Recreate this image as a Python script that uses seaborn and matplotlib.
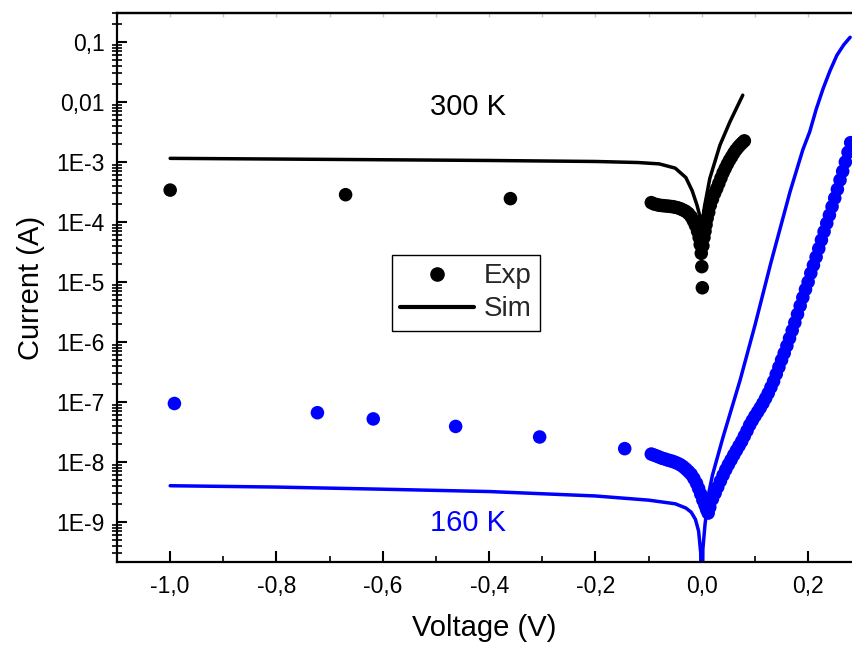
import matplotlib
matplotlib.use("Agg")
import numpy as np
import pandas as pd
import seaborn as sns
import matplotlib.pyplot as plt
from matplotlib.lines import Line2D
from matplotlib.ticker import FixedLocator, FixedFormatter, LogLocator, MultipleLocator, NullFormatter

# ---------------- data ----------------
v300_exp = [-1.0, -0.67, -0.36,
            -0.095, -0.09, -0.085, -0.08, -0.075, -0.07, -0.065, -0.06, -0.055, -0.05,
            -0.045, -0.04, -0.035, -0.03, -0.025, -0.02, -0.016, -0.012, -0.008, -0.005,
            -0.003, -0.001, 0.0, 0.001,
            0.002, 0.004, 0.006, 0.008, 0.010, 0.013, 0.016, 0.020, 0.024, 0.028, 0.032,
            0.036, 0.040, 0.044, 0.048, 0.052, 0.056, 0.060, 0.064, 0.068, 0.072, 0.076, 0.080]
i300_exp = [3.4e-4, 2.85e-4, 2.45e-4,
            2.1e-4, 2.0e-4, 1.95e-4, 1.9e-4, 1.88e-4, 1.86e-4, 1.84e-4, 1.82e-4, 1.8e-4, 1.76e-4,
            1.72e-4, 1.66e-4, 1.58e-4, 1.5e-4, 1.38e-4, 1.22e-4, 1.05e-4, 8.8e-5, 7.0e-5, 5.5e-5,
            4.2e-5, 3.0e-5, 1.8e-5, 8.0e-6,
            4.0e-5, 5.5e-5, 7.0e-5, 9.0e-5, 1.15e-4, 1.45e-4, 1.9e-4, 2.4e-4, 3.0e-4, 3.6e-4, 4.4e-4,
            5.4e-4, 6.6e-4, 7.8e-4, 9.2e-4, 1.07e-3, 1.22e-3, 1.4e-3, 1.58e-3, 1.75e-3, 1.92e-3, 2.08e-3, 2.25e-3]

v300_sim = [-1.0, -0.8, -0.6, -0.4, -0.2, -0.12, -0.08, -0.05, -0.03, -0.018, -0.009, -0.002, 0.0,
            0.005, 0.015, 0.034, 0.053, 0.077]
i300_sim = [1.15e-3, 1.12e-3, 1.09e-3, 1.06e-3, 1.02e-3, 9.8e-4, 9.3e-4, 7.9e-4, 5.5e-4, 3.3e-4, 1.9e-4, 1.1e-4, 8.5e-5,
            1.8e-4, 5.3e-4, 1.9e-3, 4.7e-3, 1.3e-2]

v160_exp = [-0.992, -0.723, -0.618, -0.463, -0.305, -0.145,
            -0.095, -0.09, -0.085, -0.08, -0.075, -0.07, -0.065, -0.06, -0.055, -0.05, -0.045,
            -0.04, -0.035, -0.03, -0.025, -0.02, -0.015, -0.01, -0.006, -0.002, 0.002, 0.006, 0.009,
            0.012, 0.015, 0.020, 0.025, 0.030, 0.035, 0.040, 0.045, 0.050, 0.055, 0.060, 0.065,
            0.070, 0.075, 0.080, 0.085, 0.090, 0.095, 0.100, 0.105, 0.110, 0.115, 0.120, 0.125,
            0.130, 0.135, 0.140, 0.145, 0.150, 0.155, 0.160, 0.165, 0.170, 0.175, 0.180, 0.185,
            0.190, 0.195, 0.200, 0.205, 0.210, 0.215, 0.220, 0.225, 0.230, 0.235, 0.240, 0.245,
            0.250, 0.255, 0.260, 0.265, 0.270, 0.275, 0.280]
i160_exp = [9.4e-8, 6.6e-8, 5.2e-8, 3.9e-8, 2.6e-8, 1.66e-8,
            1.35e-8, 1.3e-8, 1.25e-8, 1.2e-8, 1.15e-8, 1.12e-8, 1.08e-8, 1.05e-8, 1.02e-8, 9.8e-9, 9.4e-9,
            8.9e-9, 8.3e-9, 7.6e-9, 6.9e-9, 6.2e-9, 5.3e-9, 4.4e-9, 3.6e-9, 2.9e-9, 2.3e-9, 1.9e-9, 1.6e-9,
            1.4e-9, 1.75e-9, 2.4e-9, 3.0e-9, 3.8e-9, 4.8e-9, 6.0e-9, 7.4e-9, 9.0e-9, 1.08e-8, 1.3e-8, 1.55e-8,
            1.85e-8, 2.2e-8, 2.7e-8, 3.3e-8, 4.1e-8, 4.9e-8, 5.8e-8, 6.8e-8, 8.0e-8, 9.5e-8, 1.15e-7, 1.4e-7,
            1.75e-7, 2.2e-7, 2.9e-7, 3.8e-7, 5.0e-7, 6.5e-7, 8.6e-7, 1.15e-6, 1.55e-6, 2.1e-6, 2.9e-6, 4.0e-6,
            5.5e-6, 7.5e-6, 1.0e-5, 1.4e-5, 1.9e-5, 2.6e-5, 3.6e-5, 5.0e-5, 6.9e-5, 9.5e-5, 1.3e-4, 1.8e-4,
            2.5e-4, 3.5e-4, 5.0e-4, 7.0e-4, 1.0e-3, 1.45e-3, 2.1e-3]

v160_sim = [-1.0, -0.8, -0.6, -0.4, -0.2, -0.1, -0.05, -0.03, -0.02, -0.012, -0.006, -0.002, 0.0,
            0.002, 0.006, 0.013, 0.02, 0.04, 0.072, 0.1, 0.13, 0.166, 0.19, 0.203, 0.215, 0.228, 0.241, 0.254,
            0.267, 0.279]
i160_sim = [4.0e-9, 3.8e-9, 3.5e-9, 3.2e-9, 2.7e-9, 2.3e-9, 2.0e-9, 1.7e-9, 1.45e-9, 1.1e-9, 7e-10, 3e-10, 1e-12,
            3.5e-10, 9e-10, 3.0e-9, 6.0e-9, 2.6e-8, 2.3e-7, 1.9e-6, 2.1e-5, 3.2e-4, 1.6e-3, 3.2e-3, 7.5e-3, 1.66e-2,
            3.3e-2, 6.0e-2, 9.0e-2, 1.2e-1]

y_ticks = [1e-9, 1e-8, 1e-7, 1e-6, 1e-5, 1e-4, 1e-3, 1e-2, 1e-1]
y_labels = ["1E-9", "1E-8", "1E-7", "1E-6", "1E-5", "1E-4", "1E-3", "0,01", "0,1"]
x_ticks = [-1.0, -0.8, -0.6, -0.4, -0.2, 0.0, 0.2]
x_labels = ["-1,0", "-0,8", "-0,6", "-0,4", "-0,2", "0,0", "0,2"]

# ---------------- figure ----------------
sns.set_theme(style="white")
plt.rcParams["font.family"] = ["Liberation Sans", "DejaVu Sans"]

W, H = 852, 648
fig = plt.figure(figsize=(W / 100, H / 100), dpi=100)
L, R, T, B = 117, 852, 13, 562
ax = fig.add_axes([L / W, 1 - B / H, (R - L) / W, (B - T) / H])

blue = "#0000ff"
df300e = pd.DataFrame({"V": v300_exp, "I": i300_exp})
df300s = pd.DataFrame({"V": v300_sim, "I": i300_sim})
df160e = pd.DataFrame({"V": v160_exp, "I": i160_exp})
df160s = pd.DataFrame({"V": v160_sim, "I": i160_sim})

ax.set_yscale("log")
sns.lineplot(data=df300s, x="V", y="I", color="black", lw=2.5, sort=False, estimator=None, ax=ax, legend=False)
sns.lineplot(data=df160s, x="V", y="I", color=blue, lw=2.5, sort=False, estimator=None, ax=ax, legend=False)
sns.scatterplot(data=df300e, x="V", y="I", color="black", s=95, edgecolor="none", ax=ax, legend=False, zorder=3)
sns.scatterplot(data=df160e, x="V", y="I", color=blue, s=95, edgecolor="none", ax=ax, legend=False, zorder=3)

ax.set_xlim(-1.1, 0.2825)
ax.set_ylim(2.14e-10, 0.305)

ax.yaxis.set_major_locator(FixedLocator(y_ticks))
ax.yaxis.set_major_formatter(FixedFormatter(y_labels))
ax.yaxis.set_minor_locator(LogLocator(base=10, subs=np.arange(2, 10), numticks=30))
ax.yaxis.set_minor_formatter(NullFormatter())
ax.xaxis.set_major_locator(FixedLocator(x_ticks))
ax.xaxis.set_major_formatter(FixedFormatter(x_labels))
ax.xaxis.set_minor_locator(MultipleLocator(0.1))

ax.tick_params(axis="y", which="major", direction="in", length=7.5, width=1.5, color="black",
               labelsize=16.5, pad=9, labelcolor="black", left=True)
ax.tick_params(axis="y", which="minor", direction="inout", length=7, width=1.2, color="black", left=True)
ax.tick_params(axis="x", which="major", direction="in", length=8, width=1.5, color="black",
               labelsize=16.5, pad=9, labelcolor="black", bottom=True)
ax.tick_params(axis="x", which="minor", direction="in", length=4.5, width=1.2, color="black", bottom=True)

for s in ["left", "bottom", "top"]:
    ax.spines[s].set_color("black")
    ax.spines[s].set_linewidth(1.6)
ax.spines["right"].set_visible(False)

sec = ax.secondary_xaxis("top")
sec.xaxis.set_major_locator(FixedLocator(x_ticks))
sec.xaxis.set_minor_locator(MultipleLocator(0.1))
sec.tick_params(which="both", direction="in", length=3, width=1, color="#c8c8c8", labeltop=False)
sec.spines["top"].set_color("black")
sec.spines["top"].set_linewidth(1.6)

ax.set_xlabel("Voltage (V)", fontsize=21, color="black", labelpad=12)
ax.set_ylabel("Current (A)", fontsize=21, color="black", labelpad=8)

ax.text(-0.439, 8.4e-3, "300 K", fontsize=21, color="black", ha="center", va="center")
ax.text(-0.439, 9.6e-10, "160 K", fontsize=21, color=blue, ha="center", va="center")

handles = [Line2D([], [], marker="o", color="black", ls="none", ms=9.5),
           Line2D([], [], color="black", lw=3)]
leg = ax.legend(handles, ["Exp", "Sim"], loc="upper left", bbox_to_anchor=((392 - L) / (R - L), (B - 255) / (B - T)),
                fontsize=20, frameon=True, fancybox=False, framealpha=1, edgecolor="black",
                handlelength=2.65, handletextpad=0.36, labelspacing=0.25, borderpad=0.3, borderaxespad=0)
leg.get_frame().set_linewidth(1.0)

fig.savefig("out.png", dpi=100)
